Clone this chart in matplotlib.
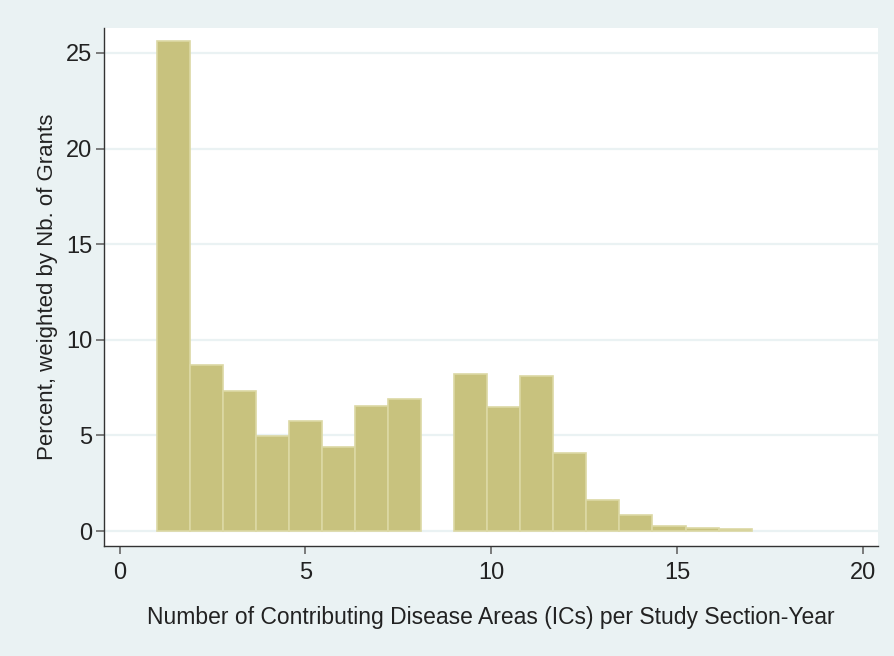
import numpy as np
import matplotlib.pyplot as plt
from matplotlib import font_manager

# histogram of contributing disease areas, 18 bins from 1 to 17
bin_start = 1
bin_end = 17
n_bins = 18
percent = [25.6, 8.68, 7.32, 4.97, 5.75, 4.39, 6.54, 6.9, 0.0,
           8.21, 6.49, 8.1, 4.08, 1.62, 0.84, 0.26, 0.16, 0.1]
xticks = [0, 5, 10, 15, 20]
yticks = [0, 5, 10, 15, 20, 25]

names = {f.name for f in font_manager.fontManager.ttflist}
family = "Liberation Sans Narrow" if "Liberation Sans Narrow" in names else "Liberation Sans"
plt.rcParams["font.family"] = [family, "DejaVu Sans"]

bg = "#EAF2F3"
fig = plt.figure(figsize=(8.94, 6.56), dpi=100, facecolor=bg)
ax = fig.add_axes([104 / 894, 1 - 546 / 656, (878 - 104) / 894, (546 - 28) / 656])
ax.set_facecolor("white")

edges = np.linspace(bin_start, bin_end, n_bins + 1)
heights = np.array(percent)
keep = heights > 0  # empty bin leaves a gap
ax.bar(edges[:-1][keep], heights[keep], width=np.diff(edges)[keep], align="edge",
       color="#C8C27E", edgecolor="#DCD8A4", linewidth=1.2, zorder=3)

ax.set_xlim(-0.42, 20.4)
ax.set_ylim(-0.78, 26.3)
ax.set_xticks(xticks)
ax.set_yticks(yticks)
ax.yaxis.grid(True, color=bg, linewidth=1.6, zorder=0)
ax.set_axisbelow(True)

for s in ["top", "right"]:
    ax.spines[s].set_visible(False)
for s in ["left", "bottom"]:
    ax.spines[s].set_color("#333333")
    ax.spines[s].set_linewidth(1.0)

ax.tick_params(axis="both", labelsize=17, labelcolor="#222222", color="#666666",
               length=5.5, width=1.2)
ax.tick_params(axis="y", pad=3)
ax.tick_params(axis="x", pad=6)

ax.set_xlabel("Number of Contributing Disease Areas (ICs) per Study Section-Year",
              fontsize=16.5, color="#222222", labelpad=16)
ax.set_ylabel("Percent, weighted by Nb. of Grants", fontsize=16, color="#222222", labelpad=6)

fig.savefig("out.png", dpi=100, facecolor=bg)
